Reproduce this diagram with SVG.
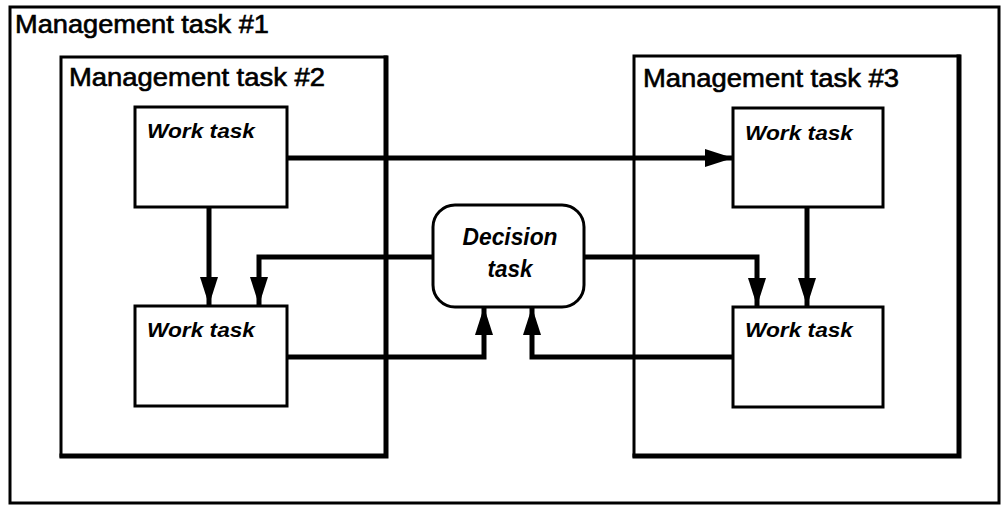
<svg xmlns="http://www.w3.org/2000/svg" width="1002" height="507" viewBox="0 0 1002 507">
  <style>
    .frame { fill: #fff; stroke: #000; stroke-width: 3; }
    .shade { fill: none; stroke: #000; stroke-width: 5; stroke-linecap: square; }
    .work { fill: #fff; stroke: #000; stroke-width: 3; }
    .mgmt-label { font-family: "Liberation Sans", Arial, sans-serif; font-size: 25px; fill: #000; stroke: #000; stroke-width: 0.6; }
    .task-label { font-family: "Liberation Sans", Arial, sans-serif; font-size: 21px; font-style: italic; font-weight: bold; fill: #000; }
    .decision-label { font-size: 23px; }
    .flow { fill: none; stroke: #000; stroke-width: 5; stroke-linejoin: miter; }
  </style>
  <defs>
    <marker id="head" markerUnits="userSpaceOnUse" markerWidth="30" markerHeight="20" refX="28" refY="10" orient="auto">
      <path d="M0,1 L28,10 L0,19 Z" fill="#000"/>
    </marker>
  </defs>

  <rect width="1002" height="507" fill="#fff"/>

  <!-- outer management task -->
  <g id="mgmt1">
    <rect class="frame" x="10" y="7" width="989" height="496"/>
    <text class="mgmt-label" x="15" y="33" textLength="254" lengthAdjust="spacingAndGlyphs">Management task #1</text>
  </g>

  <!-- left management task -->
  <g id="mgmt2">
    <rect class="frame" x="61" y="57" width="325" height="399"/>
    <path class="shade" d="M386,58 V456 H62"/>
    <text class="mgmt-label" x="69" y="86" textLength="256" lengthAdjust="spacingAndGlyphs">Management task #2</text>
  </g>

  <!-- right management task -->
  <g id="mgmt3">
    <rect class="frame" x="634" y="56" width="325" height="400"/>
    <path class="shade" d="M959,57 V456 H635"/>
    <text class="mgmt-label" x="643" y="87" textLength="256" lengthAdjust="spacingAndGlyphs">Management task #3</text>
  </g>

  <g id="work-tl">
    <rect class="work" x="135" y="107" width="152" height="100"/>
    <text class="task-label" x="147" y="138" textLength="108" lengthAdjust="spacingAndGlyphs">Work task</text>
  </g>
  <g id="work-bl">
    <rect class="work" x="135" y="306" width="152" height="100"/>
    <text class="task-label" x="147" y="337" textLength="108" lengthAdjust="spacingAndGlyphs">Work task</text>
  </g>
  <g id="work-tr">
    <rect class="work" x="733" y="108" width="150" height="99"/>
    <text class="task-label" x="745" y="140" textLength="108" lengthAdjust="spacingAndGlyphs">Work task</text>
  </g>
  <g id="work-br">
    <rect class="work" x="733" y="307" width="150" height="100"/>
    <text class="task-label" x="745" y="337" textLength="108" lengthAdjust="spacingAndGlyphs">Work task</text>
  </g>

  <g id="decision">
    <rect class="work" x="433" y="205" width="151" height="102" rx="22" ry="22"/>
    <text class="task-label decision-label" x="510" y="245" text-anchor="middle" textLength="95" lengthAdjust="spacingAndGlyphs">Decision</text>
    <text class="task-label decision-label" x="510" y="277" text-anchor="middle" textLength="45" lengthAdjust="spacingAndGlyphs">task</text>
  </g>

  <g id="connectors">
    <!-- work task #2 top -> work task #3 top -->
    <path class="flow" d="M287,158 H733" marker-end="url(#head)"/>
    <!-- left work task down -->
    <path class="flow" d="M209,207 V305" marker-end="url(#head)"/>
    <!-- decision -> left bottom work task -->
    <path class="flow" d="M433,257 H259 V305" marker-end="url(#head)"/>
    <!-- decision -> right bottom work task -->
    <path class="flow" d="M584,257 H757 V306" marker-end="url(#head)"/>
    <!-- right work task down -->
    <path class="flow" d="M807,207 V306" marker-end="url(#head)"/>
    <!-- left bottom work task -> decision -->
    <path class="flow" d="M287,357 H484 V307" marker-end="url(#head)"/>
    <!-- right bottom work task -> decision -->
    <path class="flow" d="M733,357 H532 V307" marker-end="url(#head)"/>
  </g>
</svg>
